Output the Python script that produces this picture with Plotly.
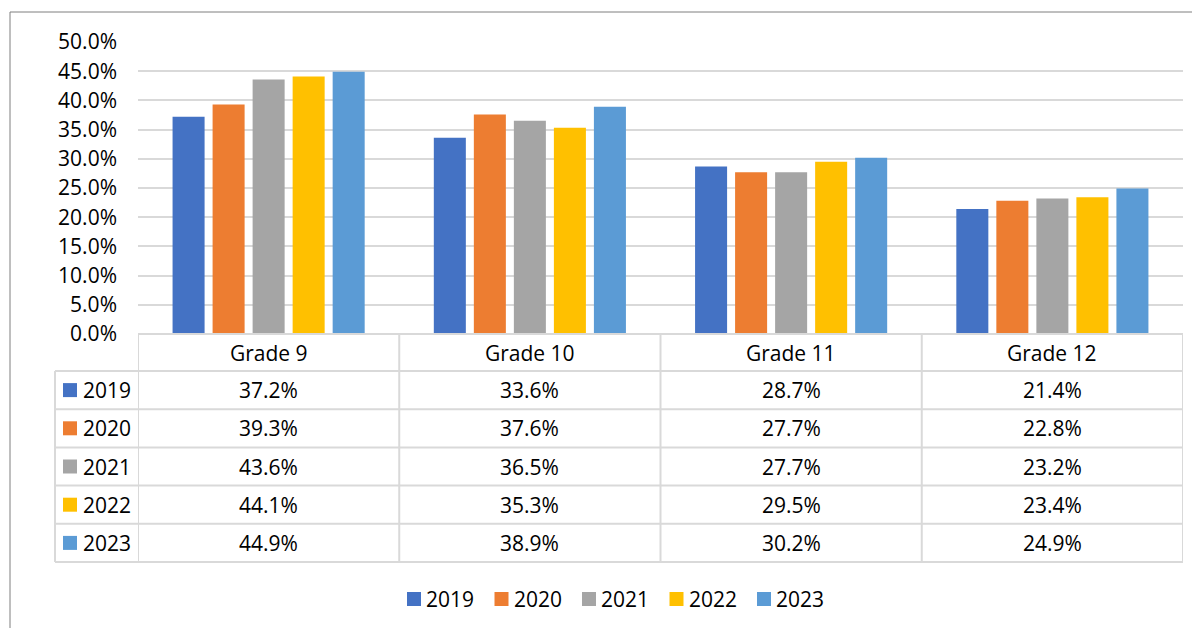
import plotly.graph_objects as go

grades = ["Grade 9", "Grade 10", "Grade 11", "Grade 12"]
years = ["2019", "2020", "2021", "2022", "2023"]
v2019 = [37.2, 33.6, 28.7, 21.4]
v2020 = [39.3, 37.6, 27.7, 22.8]
v2021 = [43.6, 36.5, 27.7, 23.2]
v2022 = [44.1, 35.3, 29.5, 23.4]
v2023 = [44.9, 38.9, 30.2, 24.9]
series = [v2019, v2020, v2021, v2022, v2023]
colors = ["#4472C4", "#ED7D31", "#A5A5A5", "#FFC000", "#5B9BD5"]

W, H = 1200, 628
OFF = 8  # page body margin
FONT = "Open Sans"
FS = 21
GRID = "#D9D9D9"


def px(x):
    return (x - OFF) / W


def py(y):
    return 1 - (y - OFF) / H


def txt(x, y, text, xref="paper", xanchor="center"):
    return dict(x=x, y=y, xref=xref, yref="paper", xanchor=xanchor, yanchor="middle",
                text=text, showarrow=False, font=dict(family=FONT, size=FS, color="#000"))


fig = go.Figure()
for yr, vals, c in zip(years, series, colors):
    fig.add_trace(go.Bar(x=grades, y=[v / 100 for v in vals], name=yr,
                         marker=dict(color=c, line=dict(width=0)),
                         showlegend=False))

shapes = []
annotations = []

# outer frame
shapes.append(dict(type="rect", xref="paper", yref="paper",
                   x0=px(10), x1=px(1230), y0=py(12), y1=py(660),
                   line=dict(color="#7F7F7F", width=1)))

# data table
hdr_top, hdr_bot = 334, 371
row_h = 38.2
n = len(years)
tbl_left = 55
rows_y = [hdr_bot + i * row_h for i in range(n + 1)]
shapes.append(dict(type="line", xref="paper", yref="paper", x0=px(138), x1=px(1183),
                   y0=py(hdr_top), y1=py(hdr_top), line=dict(color=GRID, width=2)))
for y in rows_y:
    shapes.append(dict(type="line", xref="paper", yref="paper", x0=px(tbl_left), x1=px(1183),
                       y0=py(y), y1=py(y), line=dict(color=GRID, width=2)))
shapes.append(dict(type="line", xref="paper", yref="paper", x0=px(tbl_left), x1=px(tbl_left),
                   y0=py(hdr_bot), y1=py(rows_y[-1]), line=dict(color=GRID, width=2)))
for i in range(len(grades) + 1):
    shapes.append(dict(type="line", xref="x", yref="paper", x0=i - 0.5, x1=i - 0.5,
                       y0=py(hdr_top), y1=py(rows_y[-1]), line=dict(color=GRID, width=2)))
for i, g in enumerate(grades):
    annotations.append(txt(i, py((hdr_top + hdr_bot) / 2), g, xref="x"))
for r, (yr, vals, c) in enumerate(zip(years, series, colors)):
    yc = (rows_y[r] + rows_y[r + 1]) / 2
    shapes.append(dict(type="rect", xref="paper", yref="paper", x0=px(63), x1=px(77),
                       y0=py(yc - 7), y1=py(yc + 7), fillcolor=c, line=dict(width=0)))
    annotations.append(txt(px(81), py(yc), yr, xanchor="left"))
    for i, v in enumerate(vals):
        annotations.append(txt(i, py(yc), f"{v:.1f}%", xref="x"))

# bottom legend
leg_y = 599
for k, (yr, c) in enumerate(zip(years, colors)):
    x0 = 407 + k * 87.5
    shapes.append(dict(type="rect", xref="paper", yref="paper", x0=px(x0), x1=px(x0 + 14),
                       y0=py(leg_y - 7), y1=py(leg_y + 7), fillcolor=c, line=dict(width=0)))
    annotations.append(txt(px(x0 + 17), py(leg_y), yr, xanchor="left"))

fig.update_layout(
    template="none",
    width=W, height=H, autosize=False,
    margin=dict(l=0, r=0, t=0, b=0, pad=0),
    paper_bgcolor="white", plot_bgcolor="white",
    barmode="group", bargap=0.234, bargroupgap=0.2,
    showlegend=False,
    font=dict(family=FONT, size=FS, color="#000"),
    xaxis=dict(domain=[px(138), px(1183)], showticklabels=False, showgrid=False,
               zeroline=False, showline=False, automargin=False,
               range=[-0.5, len(grades) - 0.5]),
    yaxis=dict(domain=[py(334), py(42)], range=[0, 0.5], dtick=0.05, tickformat=".1%",
               showgrid=True, gridcolor=GRID, gridwidth=2, zeroline=False, showline=False,
               automargin=False, ticks="", ticklabelstandoff=20,
               tickfont=dict(family=FONT, size=FS, color="#000")),
    shapes=shapes, annotations=annotations,
)

fig.write_html("out.html")
